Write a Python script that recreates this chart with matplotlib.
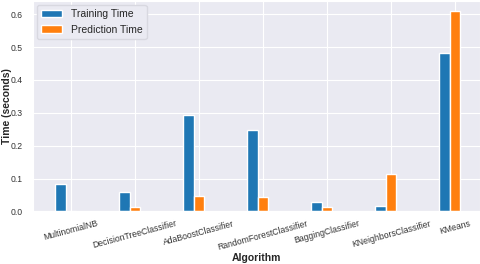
import matplotlib
matplotlib.use("Agg")
import matplotlib.pyplot as plt
import numpy as np
import seaborn as sns

algorithms = [
    "MultinomialNB",
    "DecisionTreeClassifier",
    "AdaBoostClassifier",
    "RandomForestClassifier",
    "BaggingClassifier",
    "KNeighborsClassifier",
    "KMeans",
]
training_time = [0.085, 0.058, 0.293, 0.248, 0.030, 0.016, 0.482]
prediction_time = [0.0005, 0.014, 0.047, 0.043, 0.014, 0.114, 0.610]


def plot_times(names, train, pred):
    """Grouped bar chart of training vs prediction time per algorithm."""
    sns.set_style("darkgrid")
    plt.rcParams["font.family"] = ["Liberation Sans", "DejaVu Sans"]

    fig = plt.figure(figsize=(4.8, 2.64), dpi=100)
    ax = fig.add_axes([0.069, 0.199, 0.931, 0.797])

    x = np.arange(len(names))
    w = 0.165
    # bars sit left of the tick, like a 3-column pandas bar plot
    ax.bar(x - w, train, w, color="#1f77b4", label="Training Time")
    ax.bar(x, pred, w, color="#ff7f0e", label="Prediction Time")

    ax.set_xticks(x)
    ax.set_xticklabels(names, rotation=15, ha="center", fontsize=6.2, color="#333333")
    ax.tick_params(axis="y", labelsize=6.2, labelcolor="#333333", pad=4)
    ax.tick_params(axis="x", pad=2)
    ax.set_xlim(-0.59, 6.39)
    ax.set_ylim(0, 0.64)
    ax.set_yticks([0.0, 0.1, 0.2, 0.3, 0.4, 0.5, 0.6])

    ax.set_xlabel("Algorithm", fontsize=7.5, fontweight="bold", labelpad=1)
    ax.set_ylabel("Time (seconds)", fontsize=7.5, fontweight="bold")
    ax.yaxis.set_label_coords(-0.047, 0.5)

    ax.legend(loc="upper left", fontsize=7.5, facecolor="#EAEAF2",
              edgecolor="#d8d8e0", framealpha=1, borderaxespad=0.4)

    fig.savefig("out.png", dpi=100)


plot_times(algorithms, training_time, prediction_time)
